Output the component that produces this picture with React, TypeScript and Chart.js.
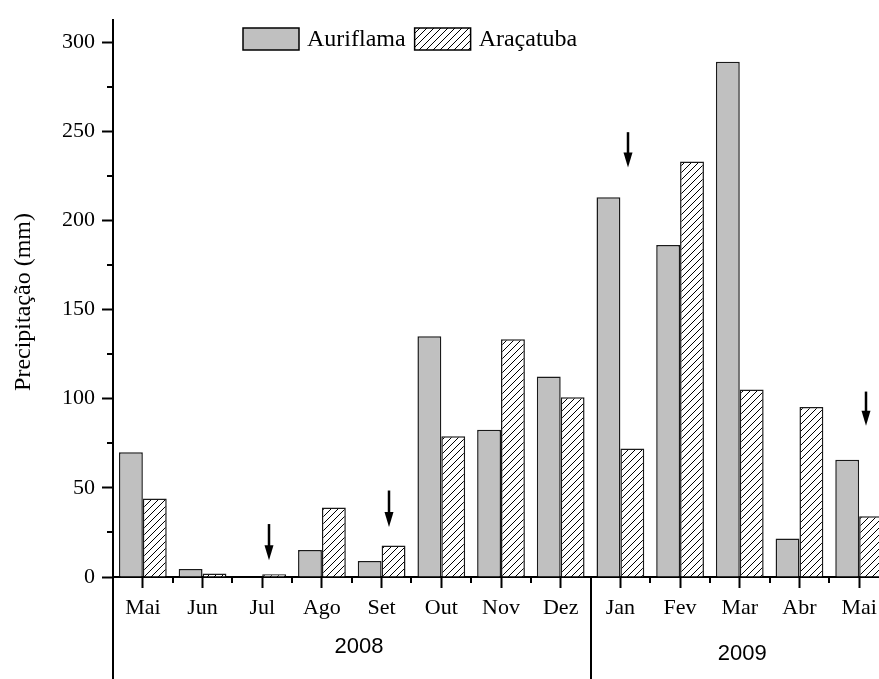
import React, { useEffect, useRef } from "react";
import { Chart, registerables } from "chart.js";

Chart.register(...registerables);

const months = ["Mai", "Jun", "Jul", "Ago", "Set", "Out", "Nov", "Dez", "Jan", "Fev", "Mar", "Abr", "Mai"];
const auriflama = [70, 4.5, 0, 15.2, 9, 135, 82.6, 112.4, 213, 186.2, 289, 21.6, 65.7];
const aracatuba = [44, 2, 1.5, 39, 17.6, 79, 133.3, 100.8, 72.1, 233, 105.2, 95.3, 34.1];
const yearLabels = ["2008", "2009"];
const arrowIndex = [2, 4, 8, 12];
const arrowTop = [29.7, 48.5, 249.5, 104];
const arrowTip = [9.4, 28.1, 229.7, 84.8];

const SERIF = '"Liberation Serif", "Times New Roman", serif';
const SANS = '"Liberation Sans", Arial, sans-serif';

export default function App() {
  const ref = useRef<HTMLCanvasElement | null>(null);

  useEffect(() => {
    const canvas = ref.current;
    if (!canvas) return;
    const ctx = canvas.getContext("2d")!;

    const pc = document.createElement("canvas");
    pc.width = 7;
    pc.height = 7;
    const p = pc.getContext("2d")!;
    p.fillStyle = "#fff";
    p.fillRect(0, 0, 7, 7);
    p.strokeStyle = "#000";
    p.lineWidth = 1;
    p.beginPath();
    p.moveTo(0, 7);
    p.lineTo(7, 0);
    p.moveTo(-1, 1);
    p.lineTo(1, -1);
    p.moveTo(6, 8);
    p.lineTo(8, 6);
    p.stroke();
    const hatch = ctx.createPattern(pc, "repeat")!;

    const decor = {
      id: "decor",
      afterDraw(chart: any) {
        const c = chart.ctx;
        const x = chart.scales.x;
        const y = chart.scales.y;
        const area = chart.chartArea;
        c.save();
        c.strokeStyle = "#000";
        c.fillStyle = "#000";
        c.lineWidth = 2;
        // minor y ticks
        for (let v = 25; v < y.max; v += 50) {
          const py = Math.round(y.getPixelForValue(v));
          c.beginPath();
          c.moveTo(area.left - 6, py);
          c.lineTo(area.left, py);
          c.stroke();
        }
        // minor x ticks at category boundaries
        const step = x.getPixelForValue(1) - x.getPixelForValue(0);
        for (let i = 1; i < months.length; i++) {
          const px = Math.round(x.getPixelForValue(i) - step / 2);
          c.beginPath();
          c.moveTo(px, area.bottom);
          c.lineTo(px, area.bottom + 6);
          c.stroke();
        }
        // year separators
        const H = chart.height;
        const sep1 = Math.round(area.left);
        const sep2 = Math.round((x.getPixelForValue(7) + x.getPixelForValue(8)) / 2);
        c.beginPath();
        c.moveTo(sep1, area.bottom);
        c.lineTo(sep1, H);
        c.moveTo(sep2, area.bottom);
        c.lineTo(sep2, H);
        c.stroke();
        // year labels
        c.font = "22px " + SANS;
        c.textAlign = "center";
        c.textBaseline = "middle";
        c.fillText(yearLabels[0], x.getPixelForValue(3.62), 647);
        c.fillText(yearLabels[1], x.getPixelForValue(10.04), 654);
        // y title
        c.save();
        c.translate(24, 302);
        c.rotate(-Math.PI / 2);
        c.font = "24px " + SERIF;
        c.fillText("Precipitação (mm)", 0, 0);
        c.restore();
        // arrows
        for (let k = 0; k < arrowIndex.length; k++) {
          const ax = Math.round(x.getPixelForValue(arrowIndex[k]) + step * 0.12);
          const t = y.getPixelForValue(arrowTop[k]);
          const b = y.getPixelForValue(arrowTip[k]);
          c.lineWidth = 2.5;
          c.beginPath();
          c.moveTo(ax, t);
          c.lineTo(ax, b - 10);
          c.stroke();
          c.beginPath();
          c.moveTo(ax - 4.5, b - 15);
          c.lineTo(ax + 4.5, b - 15);
          c.lineTo(ax, b);
          c.closePath();
          c.fill();
        }
        // legend
        c.font = "24px " + SERIF;
        c.textAlign = "left";
        c.textBaseline = "middle";
        let lx = area.left + 130;
        const ly = 28;
        chart.data.datasets.forEach((ds: any) => {
          c.fillStyle = ds.backgroundColor;
          c.fillRect(lx, ly, 56, 22);
          c.strokeStyle = "#000";
          c.lineWidth = 1.5;
          c.strokeRect(lx, ly, 56, 22);
          c.fillStyle = "#000";
          c.fillText(ds.label, lx + 64, ly + 12);
          lx += 64 + c.measureText(ds.label).width + 9;
        });
        c.restore();
      },
    };

    const chart = new Chart(ctx, {
      type: "bar",
      data: {
        labels: months,
        datasets: [
          {
            label: "Auriflama",
            data: auriflama,
            backgroundColor: "#c0c0c0",
            borderColor: "#1a1a1a",
            borderWidth: 1.5,
            categoryPercentage: 0.8,
            barPercentage: 1.0,
          },
          {
            label: "Araçatuba",
            data: aracatuba,
            backgroundColor: hatch as any,
            borderColor: "#1a1a1a",
            borderWidth: 1.5,
            categoryPercentage: 0.8,
            barPercentage: 1.0,
          },
        ],
      },
      options: {
        responsive: false,
        animation: false,
        devicePixelRatio: 1,
        layout: { padding: { left: 0, right: 0, top: 10, bottom: 0 } },
        plugins: { legend: { display: false }, tooltip: { enabled: false } },
        scales: {
          x: {
            offset: true,
            grid: { offset: false, drawOnChartArea: false, tickLength: 11, tickWidth: 2, tickColor: "#000" },
            border: { color: "#000", width: 2 },
            ticks: { color: "#000", font: { family: SERIF, size: 22 }, padding: 7, maxRotation: 0, autoSkip: false },
            afterFit: (s: any) => {
              s.height = 102;
            },
          },
          y: {
            min: 0,
            max: 312.3,
            grid: { drawOnChartArea: false, tickLength: 11, tickWidth: 2, tickColor: "#000" },
            border: { color: "#000", width: 2 },
            ticks: { stepSize: 50, includeBounds: false, color: "#000", font: { family: SERIF, size: 22 }, padding: 7 },
            afterFit: (s: any) => {
              s.width = 113;
            },
          },
        },
      },
      plugins: [decor],
    });
    return () => chart.destroy();
  }, []);

  return (
    <div style={{ position: "absolute", left: 0, top: 0, width: 879, height: 679, overflow: "hidden", background: "#fff" }}>
      <canvas ref={ref} width={889} height={679} style={{ display: "block", width: 889, height: 679 }} />
    </div>
  );
}
